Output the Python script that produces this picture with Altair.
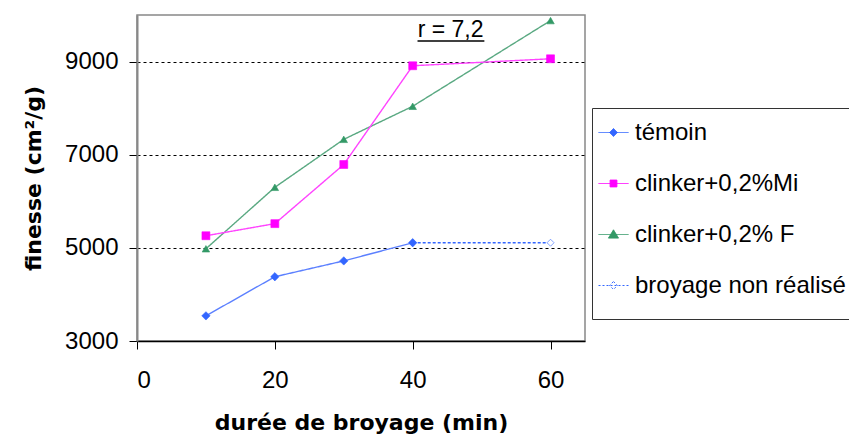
import altair as alt
import pandas as pd

# ---- data ----
series_names = ["témoin", "clinker+0,2%Mi", "clinker+0,2% F", "broyage non réalisé"]

temoin_x = [10, 20, 30, 40]
temoin_y = [3540, 4380, 4720, 5110]

mi_x = [10, 20, 30, 40, 60]
mi_y = [5260, 5520, 6790, 8910, 9060]

f_x = [10, 20, 30, 40, 60]
f_y = [4980, 6300, 7330, 8040, 9880]

nr_x = [40, 60]
nr_y = [5110, 5110]

x_ticks = [0, 20, 40, 60]
y_ticks = [3000, 5000, 7000, 9000]

annot_text = ["r = 7,2"]
annot_x = [45.5]
annot_y = [9530]
underline_x = [40.7]
underline_x2 = [50.4]
underline_y = [9440]

# ---- styling ----
marker_colors = ["#3366ff", "#ff00ff", "#339966", "#3366ff"]
line_colors = ["#5c80ff", "#ff44ff", "#5aa982", "#3366ff"]
fill_colors = ["#3366ff", "#ff00ff", "#339966", "#ffffff"]
shapes = ["diamond", "square", "triangle-up", "diamond"]
dashes = [[1, 0], [1, 0], [1, 0], [3, 2]]
legend_dashes = [[1, 0], [1, 0], [1, 0], [2, 2]]
widths = [1.4, 1.4, 1, 2]
sizes = [70, 49, 150, 70]

rows = []
for name, xs, ys in [
    (series_names[3], nr_x, nr_y),
    (series_names[2], f_x, f_y),
    (series_names[1], mi_x, mi_y),
    (series_names[0], temoin_x, temoin_y),
]:
    for xv, yv in zip(xs, ys):
        rows.append({"duree": xv, "finesse": yv, "serie": name})
df = pd.DataFrame(rows)

# legend symbol paths: a short line with the marker in the middle
p_line = "M-1,0H0.667"
p_diamond = p_line + "M-0.167,-0.22L0.053,0L-0.167,0.22L-0.387,0Z"
p_square = p_line + "M-0.357,-0.19H0.023V0.19H-0.357Z"
p_tri = p_line + "M-0.167,-0.26L0.113,0.2H-0.447Z"
legend_paths = [p_diamond, p_square, p_tri, p_diamond]

# blank spacer used as legend title: widens the box past the right edge
spacer = "\u00a0" * 80


def make_legend():
    return alt.Legend(
        title=spacer,
        titleOrient="bottom",
        titleFontSize=12,
        titlePadding=4,
        titleLimit=1000,
        orient="none",
        legendX=455,
        legendY=93,
        padding=6,
        strokeColor="#333333",
        fillColor="white",
        labelFont="Liberation Sans",
        labelFontSize=24,
        labelColor="black",
        labelOffset=0,
        labelLimit=400,
        rowPadding=20,
        symbolSize=1296,
        symbolStrokeWidth=1,
        symbolOpacity=1,
    )


x_enc = alt.X(
    "duree:Q",
    scale=alt.Scale(domain=[0, 65], nice=False, zero=False),
    axis=alt.Axis(
        values=x_ticks,
        title="durée de broyage (min)",
        grid=False,
        domainColor="black",
        domainWidth=1.5,
        tickColor="black",
        tickSize=8,
        labelPadding=19,
        titlePadding=20,
    ),
)
y_enc = alt.Y(
    "finesse:Q",
    scale=alt.Scale(domain=[3000, 10000], nice=False, zero=False),
    axis=alt.Axis(
        values=y_ticks,
        format="d",
        title="finesse (cm²/g)",
        grid=True,
        gridColor="black",
        gridDash=[3, 3],
        gridWidth=1,
        domainColor="#888888",
        domainWidth=2,
        tickColor="black",
        tickSize=8,
        labelPadding=11,
        titlePadding=19,
    ),
)

base = alt.Chart(df)

lines = base.mark_line(clip=False).encode(
    x=x_enc,
    y=y_enc,
    color=alt.Color(
        "serie:N", scale=alt.Scale(domain=series_names, range=line_colors), legend=None
    ),
    strokeDash=alt.StrokeDash(
        "serie:N", scale=alt.Scale(domain=series_names, range=dashes), legend=None
    ),
    strokeWidth=alt.StrokeWidth(
        "serie:N", scale=alt.Scale(domain=series_names, range=widths), legend=None
    ),
    detail="serie:N",
)

points = base.mark_point(filled=True, opacity=1, strokeWidth=0.6).encode(
    x="duree:Q",
    y="finesse:Q",
    fill=alt.Fill(
        "serie:N", scale=alt.Scale(domain=series_names, range=fill_colors), legend=None
    ),
    stroke=alt.Stroke(
        "serie:N", scale=alt.Scale(domain=series_names, range=marker_colors), legend=None
    ),
    shape=alt.Shape(
        "serie:N", scale=alt.Scale(domain=series_names, range=shapes), legend=None
    ),
    size=alt.Size(
        "serie:N", scale=alt.Scale(domain=series_names, range=sizes), legend=None
    ),
)

# layer with no visible rows whose only job is to carry the legend
legend_layer = (
    base.mark_point(filled=False, opacity=1, strokeWidth=1)
    .encode(
        x="duree:Q",
        y="finesse:Q",
        shape=alt.Shape(
            "serie:N",
            scale=alt.Scale(domain=series_names, range=legend_paths),
            legend=make_legend(),
        ),
        fill=alt.Fill(
            "serie:N",
            scale=alt.Scale(domain=series_names, range=fill_colors),
            legend=make_legend(),
        ),
        stroke=alt.Stroke(
            "serie:N",
            scale=alt.Scale(domain=series_names, range=marker_colors),
            legend=make_legend(),
        ),
        strokeDash=alt.StrokeDash(
            "serie:N",
            scale=alt.Scale(domain=series_names, range=legend_dashes),
            legend=make_legend(),
        ),
    )
    .transform_filter("false")
)

annot_df = pd.DataFrame(
    {
        "t": annot_text,
        "x": annot_x,
        "y": annot_y,
        "ux": underline_x,
        "ux2": underline_x2,
        "uy": underline_y,
    }
)
annot = alt.Chart(annot_df).mark_text(
    font="Liberation Sans", fontSize=23, color="black", baseline="alphabetic", align="center"
).encode(x="x:Q", y="y:Q", text="t:N")
underline = alt.Chart(annot_df).mark_rule(color="black", strokeWidth=1.5).encode(
    x="ux:Q", x2="ux2:Q", y="uy:Q"
)

chart = (
    alt.layer(lines, points, legend_layer, annot, underline)
    .resolve_scale(
        color="independent",
        fill="independent",
        stroke="independent",
        shape="independent",
        size="independent",
        strokeDash="independent",
        strokeWidth="independent",
    )
    .properties(
        width=448,
        height=326,
        autosize=alt.AutoSizeParams(type="none"),
        padding={"left": 129, "top": 7, "right": 264, "bottom": 94},
        background="white",
    )
    .configure_view(stroke="#888888", strokeWidth=1.5)
    .configure_axis(
        labelFont="Liberation Sans",
        labelFontSize=24,
        labelColor="black",
        titleFont="DejaVu Sans",
        titleFontSize=22,
        titleFontWeight="bold",
        titleColor="black",
    )
)

chart.save("out.html", embed_options={"renderer": "svg", "actions": False})
